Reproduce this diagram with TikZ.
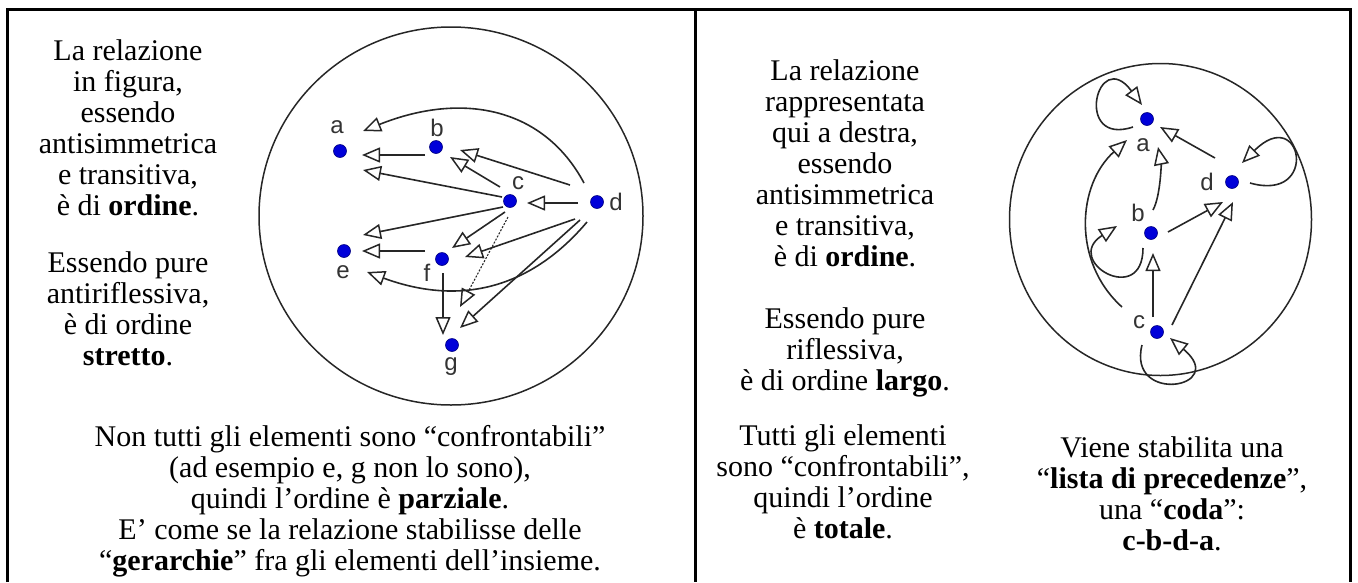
\documentclass[tikz,border=0pt]{standalone}
\usepackage{fontspec}
\setmainfont{Liberation Serif}
\newfontfamily\labelfont{Liberation Sans}
\usetikzlibrary{arrows.meta}
\begin{document}
\begin{tikzpicture}
  [x=1pt, y=-1pt,
   every node/.style={inner sep=0pt, outer sep=0pt},
   elem/.style={circle, fill=blue!85!black, draw=blue!50!black, line width=0.6pt, minimum size=13pt},
   lbl/.style={font=\labelfont\fontsize{24}{24}\selectfont, text=black!80},
   txt/.style={align=center, anchor=base, font=\fontsize{30}{31}\selectfont},
   rel/.style={-{Triangle[open, length=18pt, width=15pt, line width=1.5pt]}, line width=1.6pt, draw=black!85},
   hidden rel/.style={rel, dash pattern=on 2pt off 1.5pt, line width=1.1pt}]
  \useasboundingbox (0,0) rectangle (1358,582);
  % cornice e divisione
  \draw[line width=3pt] (7,582) |- (1350,9) -- (1350,582);
  \draw[line width=3pt] (695,9) -- (695,582);

  % ---- pannello sinistro: ordine stretto parziale
  % (la base di un testo su piu' righe e' quella dell'ultima riga)
  \node[txt] (t1) at (128,215) {La relazione\\in figura,\\essendo\\antisimmetrica\\e transitiva,\\è di \textbf{ordine}.};
  \node[txt] (t2) at (128,365) {Essendo pure\\antiriflessiva,\\è di ordine\\\textbf{stretto}.};
  \node[txt] (t3) at (350,570) {Non tutti gli elementi sono “confrontabili”\\(ad esempio e, g non lo sono),\\quindi l’ordine è \textbf{parziale}.\\E’ come se la relazione stabilisse delle\\“\textbf{gerarchie}” fra gli elementi dell’insieme.};

  \draw[line width=1.5pt, black!85] (451,216) ellipse [x radius=192, y radius=189];
  \node[elem] (a) at (340,151) {};
  \node[elem] (b) at (436,147) {};
  \node[elem] (c) at (510,201) {};
  \node[elem] (d) at (597,202) {};
  \node[elem] (e) at (344,251) {};
  \node[elem] (f) at (442,259) {};
  \node[elem] (g) at (452,345) {};
  \node[lbl] (la) at (337,127) {a};
  \node[lbl] (lb) at (437,128) {b};
  \node[lbl] (lc) at (518,183) {c};
  \node[lbl] (ld) at (616,202) {d};
  \node[lbl] (le) at (343,272) {e};
  \node[lbl] (lf) at (427,273) {f};
  \node[lbl] (lg) at (451,367) {g};

  \draw[rel] ([shift={(-11,8)}]b.center) -- ([shift={(22,4)}]a.center);
  \draw[rel] ([shift={(-8,-4)}]c.center) -- ([shift={(23,19)}]a.center);
  \draw[rel] ([shift={(-10,-14)}]c.center) -- ([shift={(14,10)}]b.center);
  \draw[rel] ([shift={(-27,-17)}]d.center) -- ([shift={(24,3)}]b.center);
  \draw[rel] ([shift={(-13,-19)}]d.center) .. controls +(-40,-75) and +(100,-40) .. ([shift={(23,-20)}]a.center);
  \draw[rel] ([shift={(-19,1)}]d.center) -- ([shift={(17,2)}]c.center);
  \draw[rel] ([shift={(-7,6)}]c.center) -- ([shift={(19,-16)}]e.center);
  \draw[rel] ([shift={(-17,-8)}]f.center) -- ([shift={(18,0)}]e.center);
  \draw[rel] ([shift={(-5,11)}]c.center) -- ([shift={(10,-11)}]f.center);
  \draw[rel] ([shift={(-22,17)}]d.center) -- ([shift={(23,-2)}]f.center);
  \draw[rel] ([shift={(1,14)}]f.center) -- ([shift={(-9,-10)}]g.center);
  \draw[hidden rel] ([shift={(-2,16)}]c.center) -- ([shift={(8,-38)}]g.center);
  \draw[rel] ([shift={(-17,18)}]d.center) -- ([shift={(8,-17)}]g.center);
  \draw[rel] ([shift={(-10,20)}]d.center) .. controls +(-55,65) and +(95,35) .. ([shift={(23,21)}]e.center);

  % ---- pannello destro: ordine largo totale
  \node[txt] (t4) at (845,266) {La relazione\\rappresentata\\qui a destra,\\essendo\\antisimmetrica\\e transitiva,\\è di \textbf{ordine}.};
  \node[txt] (t5) at (845,390) {Essendo pure\\riflessiva,\\è di ordine \textbf{largo}.};
  \node[txt] (t6) at (843,538) {Tutti gli elementi\\sono “confrontabili”,\\quindi l’ordine\\è \textbf{totale}.};
  \node[txt] (t7) at (1172,550) {Viene stabilita una\\“\textbf{lista di precedenze}”,\\una “\textbf{coda}”:\\\textbf{c-b-d-a}.};

  \draw[line width=1.5pt, black!85] (1160.5,219.5) ellipse [x radius=151, y radius=156];
  \node[elem] (ra) at (1147,119) {};
  \node[elem] (rb) at (1151,233) {};
  \node[elem] (rc) at (1157,332) {};
  \node[elem] (rd) at (1232,182) {};
  \node[lbl] (lra) at (1143,145) {a};
  \node[lbl] (lrb) at (1138,213) {b};
  \node[lbl] (lrc) at (1139,322) {c};
  \node[lbl] (lrd) at (1207,182) {d};

  \draw[rel] ([shift={(-14,8)}]ra.center) .. controls +(-60,20) and +(-45,-60) .. ([shift={(-5,-14)}]ra.center);
  \draw[rel] ([shift={(18,1)}]rd.center) .. controls +(70,20) and +(60,-60) .. ([shift={(10,-19)}]rd.center);
  \draw[rel] ([shift={(-8,15)}]rb.center) .. controls +(0,60) and +(-55,35) .. ([shift={(-34,-7)}]rb.center);
  \draw[rel] ([shift={(-15,13)}]rc.center) .. controls +(-15,60) and +(60,50) .. ([shift={(13,6)}]rc.center);
  \draw[rel] ([shift={(2,-23)}]rb.center) .. controls +(8,-15) and +(3,15) .. ([shift={(11,28)}]ra.center);
  \draw[rel] ([shift={(-35,-25)}]rc.center) .. controls +(-50,-45) and +(-50,45) .. ([shift={(-20,21)}]ra.center);
  \draw[rel] ([shift={(-17,-24)}]rd.center) -- ([shift={(13,8)}]ra.center);
  \draw[rel] ([shift={(17,-1)}]rb.center) -- ([shift={(-9,20)}]rd.center);
  \draw[rel] ([shift={(15,-7)}]rc.center) -- ([shift={(1,20)}]rd.center);
  \draw[rel] ([shift={(-4,-15)}]rc.center) -- ([shift={(2,20)}]rb.center);
\end{tikzpicture}
\end{document}
